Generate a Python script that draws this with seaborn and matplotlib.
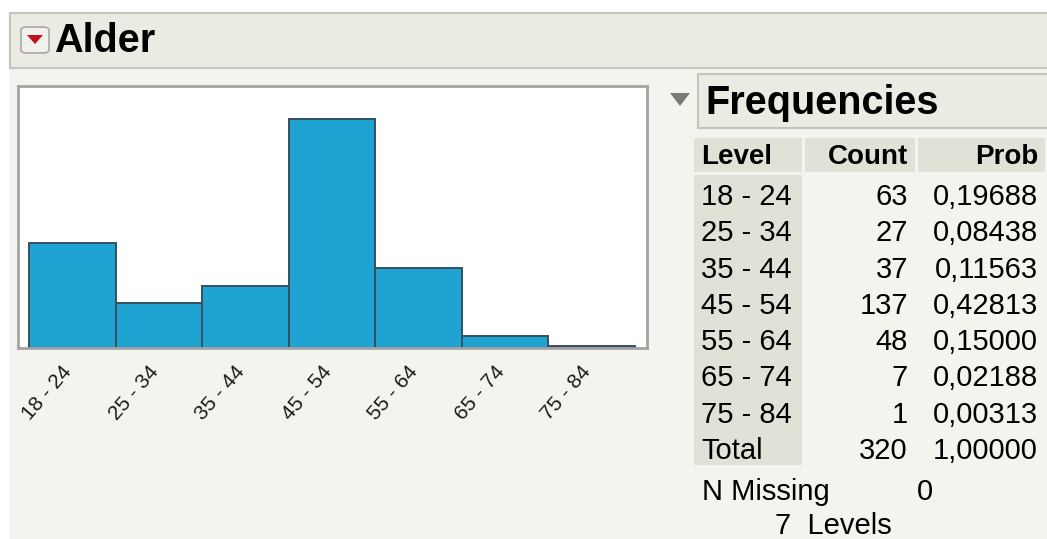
import matplotlib
matplotlib.use("Agg")
import matplotlib.pyplot as plt
import matplotlib.transforms as mtransforms
import seaborn as sns
from matplotlib.patches import Rectangle, FancyBboxPatch, Polygon

# data read from the JMP output
levels = ["18 - 24", "25 - 34", "35 - 44", "45 - 54", "55 - 64", "65 - 74", "75 - 84"]
counts = [63, 27, 37, 137, 48, 7, 1]
probs = ["0,19688", "0,08438", "0,11563", "0,42813", "0,15000", "0,02188", "0,00313"]
total_count = 320
total_prob = "1,00000"
n_missing = 0

W, H = 1047, 539

sns.set_theme(style="white")
plt.rcParams["font.family"] = ["Liberation Sans", "DejaVu Sans"]
plt.rcParams["text.color"] = "black"

fig = plt.figure(figsize=(W / 100, H / 100), dpi=100)
fig.patch.set_facecolor("white")


def fx(x):
    return x / W


def fy(y):
    return 1 - y / H


def box(x0, y0, x1, y1, fc, ec="none", lw=0, z=0):
    fig.patches.append(Rectangle((fx(x0), fy(y1)), fx(x1) - fx(x0), fy(y0) - fy(y1),
                                 transform=fig.transFigure, facecolor=fc,
                                 edgecolor=ec, linewidth=lw, zorder=z))


# panel background + title bar
box(10, 12, W + 5, H + 5, "#f4f4ef", z=-5)
box(10, 13, W + 5, 68, "#ebebe4", ec="#c4c4bc", lw=1.5, z=1)
fig.patches.append(FancyBboxPatch((fx(21), fy(53)), fx(49) - fx(21), fy(27) - fy(53),
                                  boxstyle="round,pad=0,rounding_size=0.006",
                                  transform=fig.transFigure, facecolor="#f0f0ec",
                                  edgecolor="#a8a8a8", linewidth=1.2, zorder=2))
fig.patches.append(Polygon([(fx(27), fy(35)), (fx(43), fy(35)), (fx(35), fy(44))],
                           closed=True, transform=fig.transFigure,
                           facecolor="#c0101a", edgecolor="none", zorder=3))
fig.text(fx(54), fy(41), "Alder", fontsize=28.5, fontweight="bold",
         va="center", ha="left", color="black")

# histogram
ax = fig.add_axes([fx(18), fy(348), fx(647) - fx(18), fy(86) - fy(348)])
ax.set_zorder(5)
sns.barplot(x=levels, y=counts, color="#1ea3d3", saturation=1, width=1,
            edgecolor="#36505f", linewidth=1.4, ax=ax)
ax.set_facecolor("white")
ax.set_xlim(-0.63, 6.64)
ax.set_ylim(0, 157)
ax.set_yticks([])
ax.set_xlabel("")
ax.set_ylabel("")
for sp in ax.spines.values():
    sp.set_color("#a4a4a4")
    sp.set_linewidth(2)
ax.tick_params(axis="x", length=0, pad=10)
shift = mtransforms.ScaledTranslation(-11 / 100, 0, fig.dpi_scale_trans)
for lab in ax.get_xticklabels():
    lab.set_rotation(49)
    lab.set_ha("right")
    lab.set_va("top")
    lab.set_rotation_mode("anchor")
    lab.set_fontsize(15)
    lab.set_color("#1a1a1a")
    lab.set_transform(lab.get_transform() + shift)

# frequencies table
fig.patches.append(Polygon([(fx(670), fy(93)), (fx(690), fy(93)), (fx(680), fy(106))],
                           closed=True, transform=fig.transFigure,
                           facecolor="#7a7a7a", edgecolor="none", zorder=2))
box(698, 74, W + 5, 128, "#ebebe4", ec="#c4c4bc", lw=1.5, z=1)
fig.text(fx(705), fy(103), "Frequencies", fontsize=28.5, fontweight="bold",
         va="center", ha="left")

cell = "#e1e1d8"
box(694, 138, 802, 172, cell, z=1)
box(805, 138, 915, 172, cell, z=1)
box(918, 138, 1045, 172, cell, z=1)
box(694, 175, 802, 465, cell, z=1)

fs = 21
fig.text(fx(701), fy(157), "Level", fontsize=20, fontweight="bold", va="center", ha="left")
fig.text(fx(908), fy(157), "Count", fontsize=20, fontweight="bold", va="center", ha="right")
fig.text(fx(1038), fy(157), "Prob", fontsize=20, fontweight="bold", va="center", ha="right")

row_h = 36.3
rows = list(zip(levels, counts, probs)) + [("Total", total_count, total_prob)]
for i, (lev, c, p) in enumerate(rows):
    y = 197 + i * row_h
    fig.text(fx(701), fy(y), lev, fontsize=fs, va="center", ha="left")
    fig.text(fx(908), fy(y), str(c), fontsize=fs, va="center", ha="right")
    fig.text(fx(1038), fy(y), p, fontsize=fs, va="center", ha="right")

fig.text(fx(702), fy(492), "N Missing", fontsize=fs, va="center", ha="left")
fig.text(fx(933), fy(492), str(n_missing), fontsize=fs, va="center", ha="right")
fig.text(fx(775), fy(526), f"{len(levels)}  Levels", fontsize=fs, va="center", ha="left")

fig.savefig("out.png", dpi=100, facecolor=fig.get_facecolor())
